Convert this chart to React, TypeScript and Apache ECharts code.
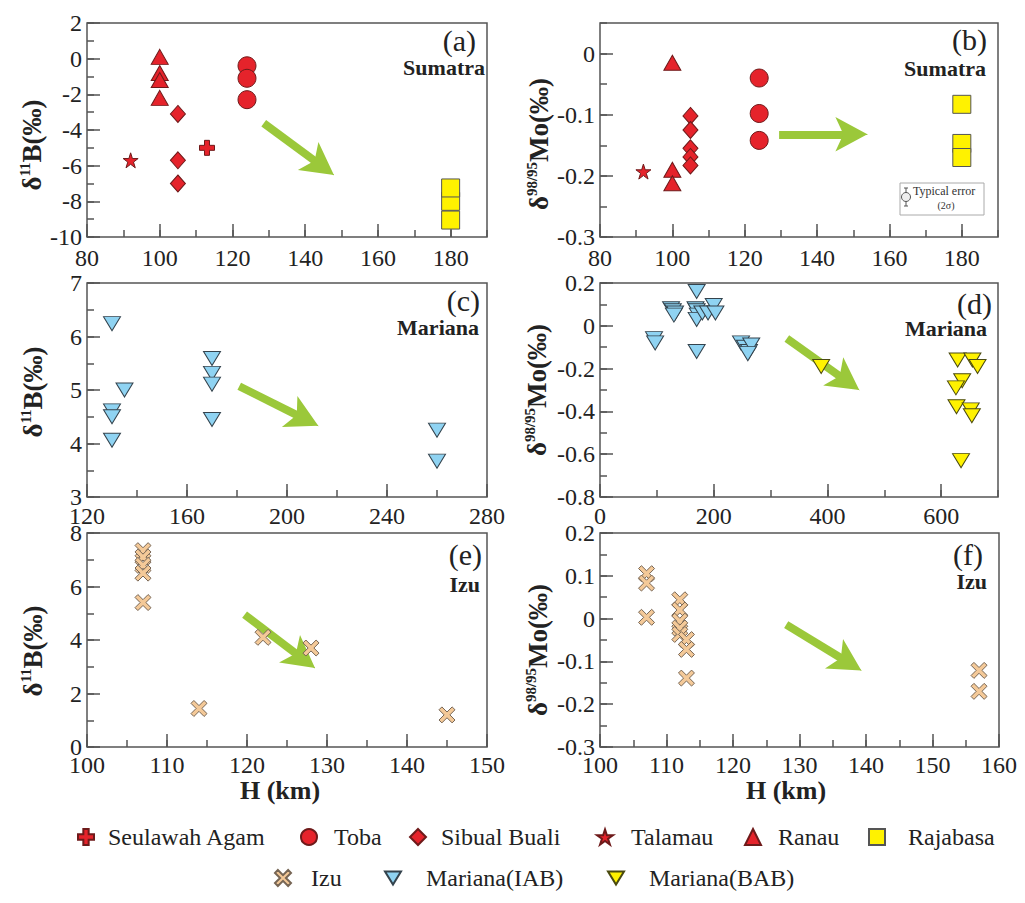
import React, { useEffect, useRef } from "react";
import * as echarts from "echarts";

const FONT = "Liberation Serif";

// ---------- axis ranges / ticks per panel (a)..(f) ----------
const xMin = [80, 80, 120, 0, 100, 100];
const xMax = [190, 190, 280, 700, 150, 160];
const xStep = [20, 20, 40, 200, 10, 10];
const yMin = [-10, -0.3, 3, -0.8, 0, -0.3];
const yMax = [2, 0.05, 7, 0.2, 8, 0.2];
const yStep = [2, 0.1, 1, 0.2, 2, 0.1];

// ---------- data ----------
// (a) d11B vs H, Sumatra
const seulawahA = [[113, -5.0]];
const tobaA = [[124, -0.4], [124, -1.1], [124, -2.3]];
const sibualA = [[105, -3.1], [105, -5.7], [105, -7.0]];
const talamauA = [[92, -5.7]];
const ranauA = [[100, 0.1], [100, -0.8], [100, -1.2], [100, -2.2]];
const rajabasaA = [[180, -8.0], [180, -7.25], [180, -9.05]];
// (b) d98/95Mo vs H, Sumatra
const tobaB = [[124, -0.04], [124, -0.098], [124, -0.142]];
const sibualB = [[105, -0.102], [105, -0.125], [105, -0.155], [105, -0.169], [105, -0.183]];
const talamauB = [[92, -0.193]];
const ranauB = [[100, -0.015], [100, -0.19], [100, -0.212]];
const rajabasaB = [[180, -0.083], [180, -0.147], [180, -0.17]];
// (c) d11B vs H, Mariana
const iabC = [[130, 6.24], [135, 5.0], [130, 4.61], [130, 4.5], [130, 4.06], [170, 5.59], [170, 5.31], [170, 5.11], [170, 4.45], [260, 4.25], [260, 3.67]];
// (d) d98/95Mo vs H, Mariana
const iabD = [[95, -0.06], [97, -0.08], [125, 0.08], [128, 0.07], [132, 0.06], [130, 0.05], [170, 0.16], [168, 0.08], [170, 0.07], [172, 0.05], [170, 0.03], [180, 0.06], [190, 0.06], [200, 0.095], [203, 0.06], [170, -0.12], [248, -0.08], [255, -0.1], [262, -0.12], [266, -0.09], [260, -0.13]];
const babD = [[389, -0.19], [629, -0.16], [655, -0.16], [664, -0.19], [637, -0.257], [626, -0.29], [627, -0.378], [652, -0.393], [654, -0.42], [635, -0.63]];
// (e) d11B vs H, Izu
const izuE = [[107, 7.34], [107, 7.1], [107, 6.79], [107, 6.5], [107, 5.4], [114, 1.44], [122, 4.1], [128, 3.7], [145, 1.2]];
// (f) d98/95Mo vs H, Izu
const izuF = [[107, 0.105], [107, 0.083], [107, 0.003], [112, 0.044], [112, 0.02], [112, -0.006], [112, -0.022], [112, -0.037], [113, -0.049], [113, -0.072], [113, -0.139], [157, -0.121], [157, -0.17]];

// trend arrows (data coords)
const arrowStart = [[128.6, -3.62], [129.5, -0.132], [180.9, 5.07], [328.6, -0.059], [119.7, 4.95], [128, -0.014]];
const arrowEnd = [[147.9, -6.52], [153.9, -0.132], [212.5, 4.33], [456, -0.3], [128.5, 2.95], [139.3, -0.121]];

const legendNames = ["Seulawah Agam", "Toba", "Sibual Buali", "Talamau", "Ranau", "Rajabasa", "Izu", "Mariana(IAB)", "Mariana(BAB)"];

const panelSeries: [string, number[][]][][] = [
  [["Seulawah Agam", seulawahA], ["Toba", tobaA], ["Sibual Buali", sibualA], ["Talamau", talamauA], ["Ranau", ranauA], ["Rajabasa", rajabasaA]],
  [["Toba", tobaB], ["Sibual Buali", sibualB], ["Talamau", talamauB], ["Ranau", ranauB], ["Rajabasa", rajabasaB]],
  [["Mariana(IAB)", iabC]],
  [["Mariana(IAB)", iabD], ["Mariana(BAB)", babD]],
  [["Izu", izuE]],
  [["Izu", izuF]],
];

const panelTags = ["(a)", "(b)", "(c)", "(d)", "(e)", "(f)"];
const panelRegions = ["Sumatra", "Sumatra", "Mariana", "Mariana", "Izu", "Izu"];

// ---------- layout & style ----------
const grids = [
  { left: 87, top: 23, width: 400, height: 214 },
  { left: 600, top: 23, width: 398, height: 214 },
  { left: 87, top: 283, width: 400, height: 214 },
  { left: 600, top: 283, width: 398, height: 214 },
  { left: 87, top: 533, width: 400, height: 214 },
  { left: 600, top: 533, width: 399, height: 214 },
];
const xLabelMargin = [12, 12, 10, 10, 9, 9];
const tagPos = [[476, 40], [987, 39], [480, 300], [992, 303], [482, 554], [983, 554]];
const regionPos = [[485, 67], [986, 68], [479, 327], [987, 328], [480, 584], [987, 581]];
const yNamePos = [[32, 145], [539, 144], [33, 392], [537, 390], [33, 651], [538, 650]];
const xNamePos = [[280, 790], [786, 790]];
const legendIconX = [85, 308, 417, 604, 752, 876, 282, 392, 615];
const legendTextX = [107, 333, 440, 630, 777, 907, 310, 425, 648];
const legendRowY = [839, 839, 839, 839, 839, 839, 880, 880, 880];

const AX = "#555";
const RED = "#e5232b";
const REDB = "#6e1a1a";
const YEL = "#fff200";
const BLUE = "#8fd3f2";
const TAN = "#f4c998";
const GREEN = "#9bc83a";

const STAR = "path://M0,-10L2.245,-3.09L9.511,-3.09L3.633,1.18L5.878,8.09L0,3.82L-5.878,8.09L-3.633,1.18L-9.511,-3.09L-2.245,-3.09Z";
const PLUS = "path://M2,0H4V2H6V4H4V6H2V4H0V2H2Z";
const XMARK = "path://M0,1.8L1.8,0L5,3.2L8.2,0L10,1.8L6.8,5L10,8.2L8.2,10L5,6.8L1.8,10L0,8.2L3.2,5Z";
const DOWN = "path://M0,0L17,0L8.5,14Z";

const symbolStyle: Record<string, { symbol: string; size: number | number[]; color: string; border: string }> = {
  "Seulawah Agam": { symbol: PLUS, size: 15, color: RED, border: REDB },
  Toba: { symbol: "circle", size: 18, color: RED, border: REDB },
  "Sibual Buali": { symbol: "diamond", size: [15, 17], color: RED, border: REDB },
  Talamau: { symbol: STAR, size: 15, color: RED, border: REDB },
  Ranau: { symbol: "triangle", size: [17, 15], color: RED, border: REDB },
  Rajabasa: { symbol: "rect", size: 18, color: YEL, border: "#555" },
  Izu: { symbol: XMARK, size: 16, color: TAN, border: "#776655" },
  "Mariana(IAB)": { symbol: DOWN, size: [17, 14], color: BLUE, border: "#34434d" },
  "Mariana(BAB)": { symbol: DOWN, size: [17, 14], color: YEL, border: "#4a4a10" },
};

function buildOption() {
  const xAxis: any[] = [];
  const yAxis: any[] = [];
  const series: any[] = [];
  const graphic: any[] = [];
  const tickStyle = { color: AX, width: 1.5 };
  const labelStyle = { fontFamily: FONT, fontSize: 24, lineHeight: 18, color: "#222" };

  grids.forEach((g, p) => {
    xAxis.push({
      type: "value", gridIndex: p, position: "bottom", min: xMin[p], max: xMax[p], interval: xStep[p],
      axisLine: { show: false, onZero: false },
      axisTick: { show: true, inside: true, length: 13, lineStyle: tickStyle },
      axisLabel: { ...labelStyle, margin: xLabelMargin[p], showMaxLabel: xMax[p] % xStep[p] === 0 },
      splitLine: { show: false },
    });
    xAxis.push({
      type: "value", gridIndex: p, position: "bottom", min: xMin[p], max: xMax[p], interval: xStep[p] / 2,
      axisLine: { show: false, onZero: false },
      axisTick: { show: true, inside: true, length: 7, lineStyle: tickStyle },
      axisLabel: { show: false },
      splitLine: { show: false },
    });
    const yDiv = Math.round((yMax[p] - yMin[p]) / yStep[p] * 1000) / 1000;
    yAxis.push({
      type: "value", gridIndex: p, position: "left", min: yMin[p], max: yMax[p], interval: yStep[p],
      axisLine: { show: false, onZero: false },
      axisTick: { show: true, inside: true, length: 13, lineStyle: tickStyle },
      axisLabel: { ...labelStyle, margin: 5, showMaxLabel: Number.isInteger(yDiv) },
      splitLine: { show: false },
    });
    yAxis.push({
      type: "value", gridIndex: p, position: "left", min: yMin[p], max: yMax[p], interval: yStep[p] / 2,
      axisLine: { show: false, onZero: false },
      axisTick: { show: true, inside: true, length: 7, lineStyle: tickStyle },
      axisLabel: { show: false },
      splitLine: { show: false },
    });

    panelSeries[p].forEach(([name, data], k) => {
      const st = symbolStyle[name];
      const s: any = {
        type: "scatter", name, data, xAxisIndex: 2 * p, yAxisIndex: 2 * p, z: 3,
        symbol: st.symbol, symbolSize: st.size,
        itemStyle: { color: st.color, borderColor: st.border, borderWidth: 1, opacity: 1 },
        emphasis: { disabled: true },
      };
      if (k === 0) {
        const [x1, y1] = arrowStart[p];
        const [x2, y2] = arrowEnd[p];
        const at = (f: number) => [x1 + (x2 - x1) * f, y1 + (y2 - y1) * f];
        s.markLine = {
          silent: true, z: 1, animation: false,
          symbol: ["none", "none"],
          label: { show: false }, emphasis: { disabled: true },
          lineStyle: { color: GREEN, width: 8, type: "solid", opacity: 1 },
          data: [
            [{ coord: [x1, y1] }, { coord: at(0.8) }],
            [
              { coord: at(0.6), lineStyle: { color: GREEN, width: 1, type: "solid" } },
              { coord: [x2, y2], symbol: "arrow", symbolSize: [26, 32] },
            ],
          ],
        };
      }
      series.push(s);
    });

    // panel tag, region name
    graphic.push({
      type: "text", x: tagPos[p][0], y: tagPos[p][1], z: 50,
      style: { text: panelTags[p], fontFamily: FONT, fontSize: 30, fill: "#222", align: "right", verticalAlign: "middle" },
    });
    graphic.push({
      type: "text", x: regionPos[p][0], y: regionPos[p][1], z: 50,
      style: { text: panelRegions[p], fontFamily: FONT, fontSize: 22, fontWeight: "bold", fill: "#222", align: "right", verticalAlign: "middle" },
    });
    const isB = p % 2 === 0;
    graphic.push({
      type: "text", x: yNamePos[p][0], y: yNamePos[p][1], rotation: Math.PI / 2, z: 50,
      style: {
        text: isB ? "{m|δ}{s|11}{m|B(‰)}" : "{m|δ}{s|98/95}{m|Mo(‰)}",
        align: "center", verticalAlign: "middle",
        rich: {
          m: { fontFamily: FONT, fontSize: 27, fontWeight: "bold", fill: "#222", lineHeight: 30 },
          s: { fontFamily: FONT, fontSize: 15, fontWeight: "bold", fill: "#222", lineHeight: 15, verticalAlign: "top" },
        },
      },
    });
  });

  xNamePos.forEach(([x, y]) => {
    graphic.push({
      type: "text", x, y, z: 50,
      style: { text: "H (km)", fontFamily: FONT, fontSize: 26, fontWeight: "bold", fill: "#222", align: "center", verticalAlign: "middle" },
    });
  });

  // typical error box in (b)
  graphic.push(
    { type: "rect", z: 40, shape: { x: 900, y: 183, width: 84, height: 32 }, style: { fill: "#fff", stroke: "#aaa", lineWidth: 1 } },
    { type: "line", z: 41, shape: { x1: 906, y1: 188, x2: 906, y2: 206 }, style: { stroke: "#555", lineWidth: 1 } },
    { type: "line", z: 41, shape: { x1: 904, y1: 188, x2: 908, y2: 188 }, style: { stroke: "#555", lineWidth: 1 } },
    { type: "line", z: 41, shape: { x1: 904, y1: 206, x2: 908, y2: 206 }, style: { stroke: "#555", lineWidth: 1 } },
    { type: "circle", z: 42, shape: { cx: 906, cy: 197, r: 4.5 }, style: { fill: "#eee", stroke: "#555", lineWidth: 1 } },
    { type: "text", z: 42, x: 913, y: 191, style: { text: "Typical error", fontFamily: FONT, fontSize: 12, fill: "#333", align: "left", verticalAlign: "middle" } },
    { type: "text", z: 42, x: 946, y: 205, style: { text: "(2σ)", fontFamily: FONT, fontSize: 10, fill: "#333", align: "center", verticalAlign: "middle" } }
  );

  const legend = legendNames.map((name, i) => ({
    data: [name],
    left: legendIconX[i] - 8,
    top: legendRowY[i] - 14,
    padding: 0,
    itemWidth: 16,
    itemHeight: 16,
    itemGap: 0,
    selectedMode: false,
    textStyle: {
      fontFamily: FONT, fontSize: 24, color: "#222",
      padding: [0, 0, 0, Math.max(0, legendTextX[i] - (legendIconX[i] + 8) - 5)],
    },
  }));

  return {
    animation: false,
    backgroundColor: "#fff",
    textStyle: { fontFamily: FONT },
    grid: grids.map((g) => ({ ...g, show: true, borderColor: AX, borderWidth: 1.5, backgroundColor: "transparent", containLabel: false })),
    xAxis,
    yAxis,
    series,
    legend,
    graphic,
  };
}

export default function App() {
  const ref = useRef<HTMLDivElement>(null);
  useEffect(() => {
    document.body.style.margin = "0";
    if (!ref.current) return;
    const chart = echarts.init(ref.current, undefined, { renderer: "svg" });
    chart.setOption(buildOption());
    return () => chart.dispose();
  }, []);
  return <div ref={ref} style={{ width: 1025, height: 903 }} />;
}
